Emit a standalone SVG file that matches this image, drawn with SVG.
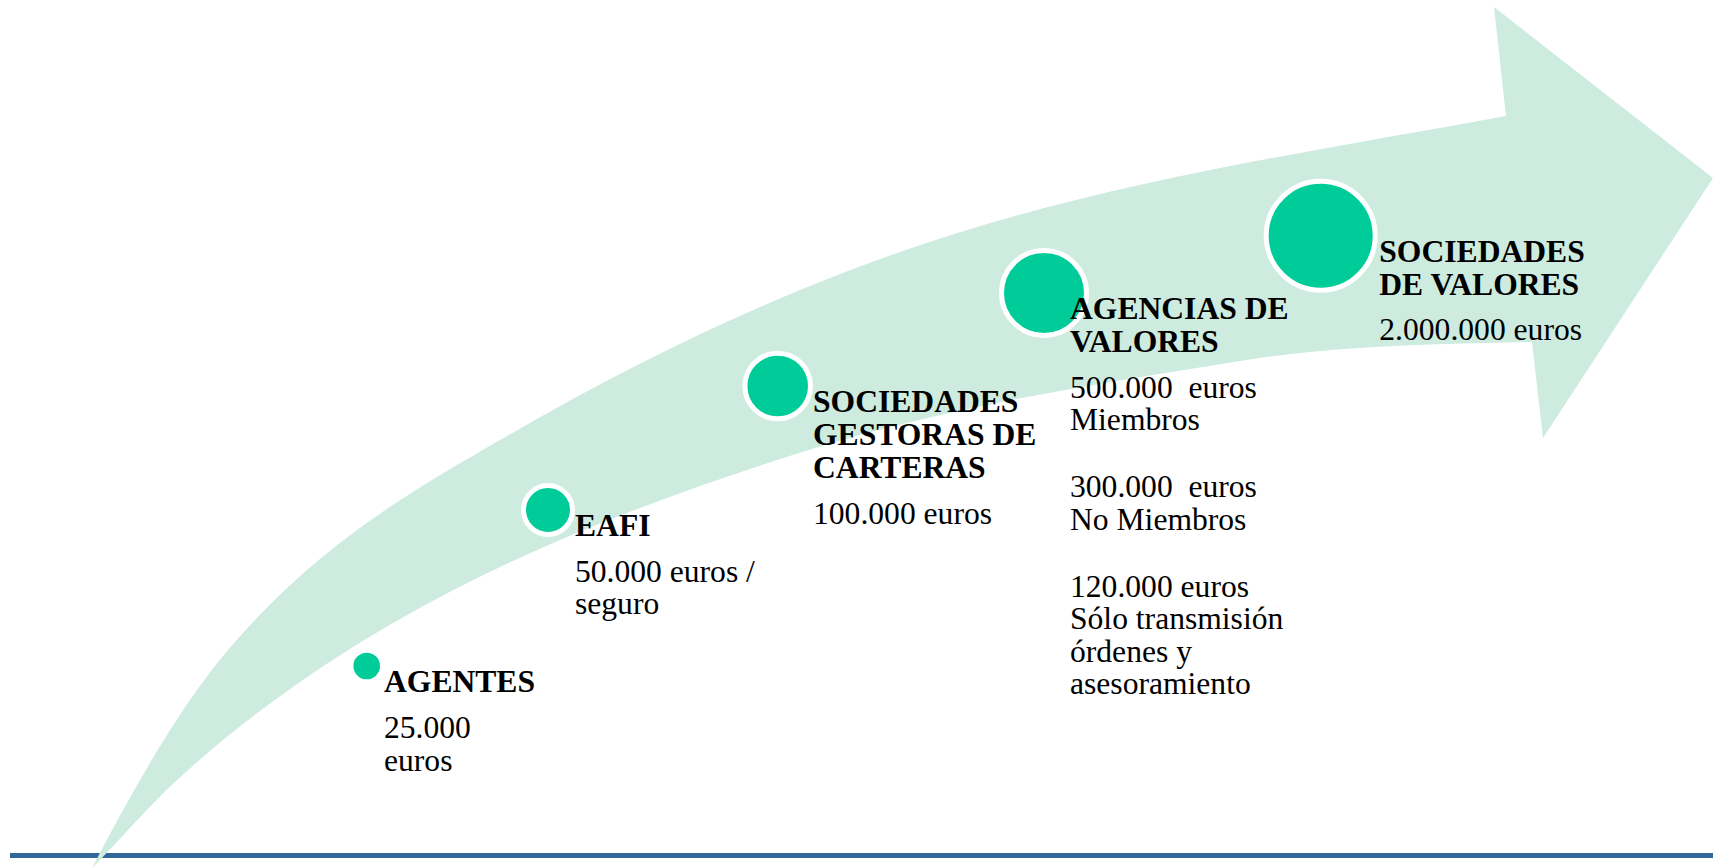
<svg xmlns="http://www.w3.org/2000/svg" width="1713" height="868" viewBox="0 0 1713 868">
<style>
.dot{fill:#00CC99;stroke:#FFFFFF;stroke-width:5}
.t{font-family:"Liberation Serif","Times New Roman",serif;font-size:31.6px;fill:#000000;white-space:pre}
.b{font-weight:bold}
</style>
<rect x="0" y="0" width="1713" height="868" fill="#FFFFFF"/>
<rect id="baseline" x="10" y="853" width="1703" height="5" fill="#336699"/>
<g id="arrow">
<path fill="#CDEBDF" d="M 92,868 C 137,781.6 183,702.7 228,650 C 318.7,543.9 409.3,492.6 500,440 C 632.3,363.3 764.7,299.3 897,253 C 1100,182 1303,153.4 1506,116 L 1494,7 L 1713,178 L 1543,438 L 1532,342 C 1434.7,344 1337.3,345.4 1240,361 C 1086.7,385.5 933.3,408.4 780,459 C 651,501.6 522,548.2 393,623 C 321,664.8 249,714.5 177,780 C 148.7,805.8 120.3,839.7 92,868 Z"/>
</g>
<g id="connectors"></g>
<g id="node-agentes">
<circle class="dot" cx="366.7" cy="666" r="15.8"/>
<text class="t b" x="384" y="692">AGENTES</text>
<text class="t" x="384" y="737.5">25.000</text>
<text class="t" x="384" y="770.5">euros</text>
</g>
<g id="node-eafi">
<circle class="dot" cx="548" cy="510" r="24.5"/>
<text class="t b" x="575" y="536">EAFI</text>
<text class="t" x="575" y="581.7">50.000 euros /</text>
<text class="t" x="575" y="614">seguro</text>
</g>
<g id="node-sgc">
<circle class="dot" cx="777.7" cy="386" r="32.8"/>
<text class="t b" x="813" y="411.7">SOCIEDADES</text>
<text class="t b" x="813" y="445">GESTORAS DE</text>
<text class="t b" x="813" y="478.3">CARTERAS</text>
<text class="t" x="813" y="524">100.000 euros</text>
</g>
<g id="node-av">
<circle class="dot" cx="1044" cy="293" r="42.5"/>
<text class="t b" x="1070" y="318.5">AGENCIAS DE</text>
<text class="t b" x="1070" y="351.7">VALORES</text>
<text class="t" x="1070" y="398.3">500.000  euros</text>
<text class="t" x="1070" y="430">Miembros</text>
<text class="t" x="1070" y="497.3">300.000  euros</text>
<text class="t" x="1070" y="530">No Miembros</text>
<text class="t" x="1070" y="596.7">120.000 euros</text>
<text class="t" x="1070" y="629.3">Sólo transmisión</text>
<text class="t" x="1070" y="662">órdenes y</text>
<text class="t" x="1070" y="694">asesoramiento</text>
</g>
<g id="node-sv">
<circle class="dot" cx="1320.7" cy="235.7" r="54.5"/>
<text class="t b" x="1379.3" y="261.7">SOCIEDADES</text>
<text class="t b" x="1379.3" y="295">DE VALORES</text>
<text class="t" x="1379.3" y="340">2.000.000 euros</text>
</g>
</svg>
